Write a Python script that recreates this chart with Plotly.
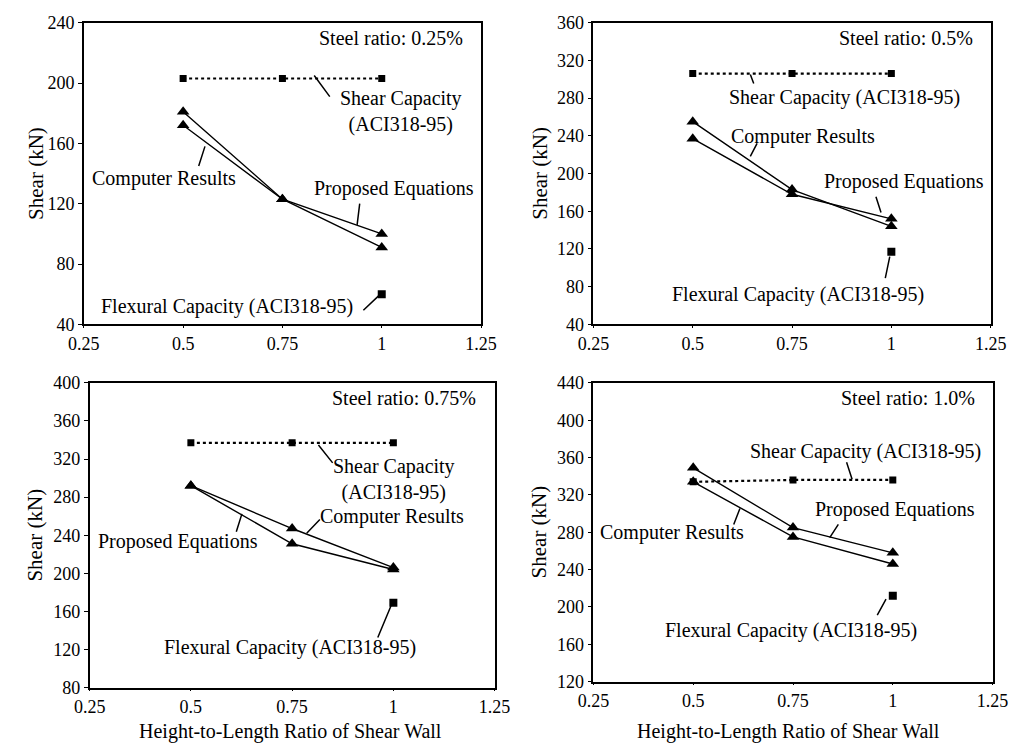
import plotly.graph_objects as go

# ---------------- data ----------------
ratios = [0.5, 0.75, 1.0]
steel_labels = ["Steel ratio: 0.25%", "Steel ratio: 0.5%", "Steel ratio: 0.75%", "Steel ratio: 1.0%"]

shear_cap_025 = [203, 203, 203]
computer_025 = [172, 123, 91]
proposed_025 = [181, 123, 100]
flexural_025 = [60]

shear_cap_05 = [306, 306, 306]
computer_05 = [255, 183, 144]
proposed_05 = [237, 178, 152]
flexural_05 = [117]

shear_cap_075 = [337, 337, 337]
computer_075 = [292, 247, 206]
proposed_075 = [292, 231, 204]
flexural_075 = [169]

shear_cap_10 = [334, 336, 336]
computer_10 = [334, 275, 246]
proposed_10 = [349, 285, 258]
flexural_10 = [212]

y_ranges = [[40, 240], [40, 360], [80, 400], [120, 440]]
x_ticks = [0.25, 0.5, 0.75, 1.0, 1.25]
x_ticktext = ["0.25", "0.5", "0.75", "1", "1.25"]

W, H = 1027, 754
FONT = "'Liberation Serif', 'Times New Roman', 'DejaVu Serif', serif"

# panel pixel boxes (left, right, top, bottom)
boxes = [(70, 480, 13, 323), (596, 1006, 13, 323), (76, 494, 383, 696), (596, 1008, 383, 690)]

panels = [
    (shear_cap_025, computer_025, proposed_025, flexural_025),
    (shear_cap_05, computer_05, proposed_05, flexural_05),
    (shear_cap_075, computer_075, proposed_075, flexural_075),
    (shear_cap_10, computer_10, proposed_10, flexural_10),
]

# label placement: (text, x, y, leader_from(x,y), leader_to(x,y))
labels = [
    [
        ("Shear Capacity<br>(ACI318-95)", 1.048, 181, (0.872, 190), (0.83, 205)),
        ("Computer Results", 0.452, 137, (0.538, 144), (0.555, 158)),
        ("Proposed Equations", 1.03, 130, (0.945, 121), (0.938, 106)),
        ("Flexural Capacity (ACI318-95)", 0.611, 51.6, (0.95, 48.4), (0.994, 59.4)),
    ],
    [
        ("Shear Capacity (ACI318-95)", 0.882, 280.5, (0.655, 294), (0.645, 305)),
        ("Computer Results", 0.777, 239, (0.643, 216.6), (0.662, 232)),
        ("Proposed Equations", 1.033, 191.8, (0.96, 177), (0.974, 158.8)),
        ("Flexural Capacity (ACI318-95)", 0.765, 72, (0.984, 87.5), (0.996, 112)),
    ],
    [
        ("Shear Capacity<br>(ACI318-95)", 1.001, 299, (0.853, 314.4), (0.815, 334.8)),
        ("Computer Results", 0.996, 259.3, (0.822, 258), (0.786, 242)),
        ("Proposed Equations", 0.468, 233, (0.611, 242), (0.626, 262.4)),
        ("Flexural Capacity (ACI318-95)", 0.745, 121.7, (0.96, 131), (0.994, 165.6)),
    ],
    [
        ("Shear Capacity (ACI318-95)", 0.932, 367, (0.883, 356.6), (0.898, 336.8)),
        ("Computer Results", 0.447, 279.4, (0.6, 286.7), (0.617, 305.5)),
        ("Proposed Equations", 1.005, 304.4, (0.866, 290), (0.842, 274.2)),
        ("Flexural Capacity (ACI318-95)", 0.745, 175, (0.959, 189.7), (0.983, 208.5)),
    ],
]

fig = go.Figure()
annotations = []
layout = {}

for i, (shear, comp, prop, flex) in enumerate(panels):
    n = i + 1
    xa = "x" if n == 1 else f"x{n}"
    ya = "y" if n == 1 else f"y{n}"
    l, r, t, b = boxes[i]
    xdom = [l / W, r / W]
    ydom = [1 - b / H, 1 - t / H]

    fig.add_trace(go.Scatter(x=ratios, y=shear, xaxis=xa, yaxis=ya, mode="lines+markers",
                             line=dict(color="black", width=2.2, dash="dot"),
                             marker=dict(symbol="square", size=7, color="black"), showlegend=False))
    fig.add_trace(go.Scatter(x=ratios, y=comp, xaxis=xa, yaxis=ya, mode="lines+markers",
                             line=dict(color="black", width=1.4),
                             marker=dict(symbol="triangle-up", size=11, color="black"), showlegend=False))
    fig.add_trace(go.Scatter(x=ratios, y=prop, xaxis=xa, yaxis=ya, mode="lines+markers",
                             line=dict(color="black", width=1.4),
                             marker=dict(symbol="triangle-up", size=11, color="black"), showlegend=False))
    fig.add_trace(go.Scatter(x=[ratios[-1]], y=flex, xaxis=xa, yaxis=ya, mode="markers",
                             marker=dict(symbol="square", size=8, color="black"), showlegend=False))

    axkey = "xaxis" if n == 1 else f"xaxis{n}"
    aykey = "yaxis" if n == 1 else f"yaxis{n}"
    y0, y1 = y_ranges[i]
    layout[axkey] = dict(domain=xdom, range=[0.25, 1.25], anchor=ya, tickvals=x_ticks, ticktext=x_ticktext,
                         showgrid=False, zeroline=False, showline=True, linecolor="black", linewidth=1.5,
                         mirror=True, ticks="outside", ticklen=2, tickcolor="black",
                         tickfont=dict(family=FONT, size=18, color="black"))
    layout[aykey] = dict(domain=ydom, range=[y0, y1], anchor=xa, dtick=40,
                         showgrid=False, zeroline=False, showline=True, linecolor="black", linewidth=1.5,
                         mirror=True, ticks="outside", ticklen=4, tickcolor="black",
                         tickfont=dict(family=FONT, size=18, color="black"))

    # steel ratio
    annotations.append(dict(text=steel_labels[i], xref=f"{xa} domain", yref=f"{ya} domain",
                            x=0.96, y=0.95, xanchor="right", yanchor="middle", showarrow=False,
                            font=dict(family=FONT, size=20, color="black")))
    # y-axis title
    annotations.append(dict(text="Shear (kN)", xref="paper", yref="paper",
                            x=(20 if i % 2 == 0 else 540) / W, y=(ydom[0] + ydom[1]) / 2,
                            textangle=-90, showarrow=False, xanchor="center", yanchor="middle",
                            font=dict(family=FONT, size=21, color="black")))
    for (txt, tx, ty, p0, p1) in labels[i]:
        annotations.append(dict(text=txt, x=tx, y=ty, xref=xa, yref=ya, showarrow=False,
                                font=dict(family=FONT, size=20, color="black")))
        annotations.append(dict(text="", x=p1[0], y=p1[1], ax=p0[0], ay=p0[1], xref=xa, yref=ya,
                                axref=xa, ayref=ya, showarrow=True, arrowhead=0, arrowwidth=1.5,
                                arrowcolor="black"))

# x-axis titles (bottom panels)
annotations.append(dict(text="Height-to-Length Ratio of Shear Wall", xref="paper", yref="paper",
                        x=283 / W, y=0, showarrow=False, xanchor="center", yanchor="bottom",
                        borderpad=0, font=dict(family=FONT, size=20, color="black")))
annotations.append(dict(text="Height-to-Length Ratio of Shear Wall", xref="paper", yref="paper",
                        x=797 / W, y=0, showarrow=False, xanchor="center", yanchor="bottom",
                        borderpad=0, font=dict(family=FONT, size=20, color="black")))

fig.update_layout(width=W, height=H, margin=dict(l=0, r=0, t=0, b=0),
                  paper_bgcolor="white", plot_bgcolor="white",
                  annotations=annotations, **layout)

fig.write_html("out.html")
